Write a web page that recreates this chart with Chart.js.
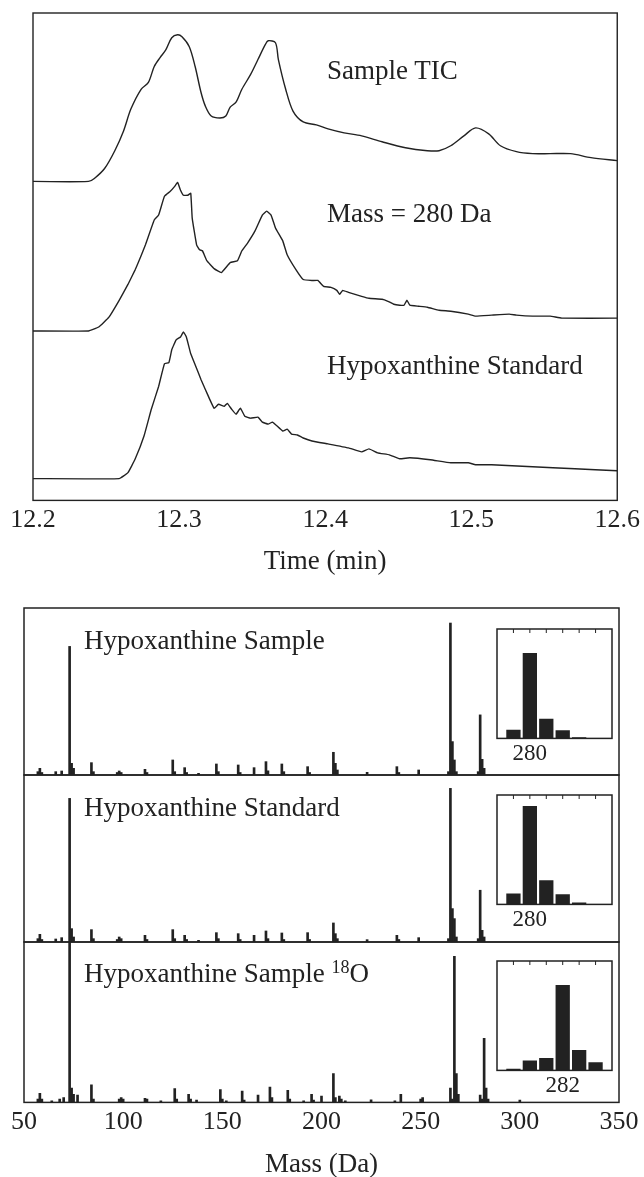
<!DOCTYPE html>
<html>
<head>
<meta charset="utf-8">
<script src="https://cdn.jsdelivr.net/npm/chart.js@4.4.1/dist/chart.umd.min.js"></script>
<style>
  html, body { margin: 0; padding: 0; background: #fff; overflow: hidden; }
  body { width: 644px; height: 1177px; position: relative; font-family: "Liberation Serif", "Times New Roman", serif; color: #222; }
  .box { position: absolute; }
  .lbl { position: absolute; font-size: 27px; line-height: 30px; white-space: nowrap; }
  .lbl sup { font-size: 18px; vertical-align: 9px; line-height: 0; }
</style>
</head>
<body>

<div class="box" style="left:0;top:0"><canvas id="tic" width="644" height="600"></canvas></div>
<div class="box" style="left:0;top:604px"><canvas id="spec1" width="644" height="175"></canvas></div>
<div class="box" style="left:0;top:771px"><canvas id="spec2" width="644" height="175"></canvas></div>
<div class="box" style="left:0;top:938px"><canvas id="spec3" width="644" height="257"></canvas></div>
<div class="box" style="left:485px;top:623px"><canvas id="ins1" width="140" height="149"></canvas></div>
<div class="box" style="left:485px;top:789px"><canvas id="ins2" width="140" height="149"></canvas></div>
<div class="box" style="left:485px;top:955px"><canvas id="ins3" width="140" height="149"></canvas></div>

<div class="lbl" style="left:327px;top:55px">Sample TIC</div>
<div class="lbl" style="left:327px;top:198px">Mass = 280 Da</div>
<div class="lbl" style="left:327px;top:350px">Hypoxanthine Standard</div>
<div class="lbl" style="left:84px;top:625px">Hypoxanthine Sample</div>
<div class="lbl" style="left:84px;top:792px">Hypoxanthine Standard</div>
<div class="lbl" style="left:84px;top:958px">Hypoxanthine Sample <sup>18</sup>O</div>

<script>
// chromatograms (time in min, trace level in a.u., traces are offset as in the figure)
const ticTime = [12.200, 12.238, 12.242, 12.249, 12.256, 12.262, 12.267, 12.274, 12.279, 12.283, 12.287, 12.291, 12.295, 12.299, 12.302, 12.307, 12.311, 12.315, 12.318, 12.322, 12.328, 12.332, 12.335, 12.339, 12.343, 12.349, 12.354, 12.359, 12.361, 12.366, 12.368, 12.373, 12.378, 12.385, 12.394, 12.402, 12.413, 12.425, 12.439, 12.455, 12.470, 12.478, 12.486, 12.495, 12.503, 12.512, 12.520, 12.531, 12.542, 12.554, 12.568, 12.582, 12.600];
const ticLevel = [322, 322, 325, 335, 353, 373, 395, 415, 422, 438, 447, 455, 467, 470, 468, 458, 438, 412, 398, 388, 386, 388, 397, 402, 415, 430, 445, 460, 464, 462, 445, 415, 393, 382, 379, 375, 371, 368, 362, 356, 353, 353, 358, 368, 376, 370, 358, 352, 350, 350, 350, 346, 343];

const m280Time = [12.200, 12.238, 12.245, 12.252, 12.259, 12.265, 12.270, 12.274, 12.277, 12.283, 12.286, 12.290, 12.294, 12.297, 12.299, 12.301, 12.303, 12.306, 12.308, 12.309, 12.312, 12.314, 12.316, 12.319, 12.324, 12.329, 12.335, 12.340, 12.343, 12.347, 12.352, 12.357, 12.360, 12.363, 12.366, 12.371, 12.374, 12.380, 12.385, 12.391, 12.395, 12.399, 12.404, 12.408, 12.410, 12.412, 12.416, 12.425, 12.430, 12.439, 12.443, 12.447, 12.451, 12.454, 12.456, 12.458, 12.464, 12.470, 12.478, 12.486, 12.498, 12.503, 12.514, 12.526, 12.531, 12.542, 12.554, 12.562, 12.600];
const m280Level = [171, 171, 175, 185, 202, 218, 233, 247, 258, 283, 288, 307, 312, 317, 321, 313, 308, 308, 310, 285, 258, 253, 252, 242, 234, 230, 240, 242, 252, 260, 272, 288, 292, 288, 275, 262, 248, 233, 223, 222, 222, 216, 215, 212, 208, 212, 210, 206, 204, 203, 201, 198, 197, 197, 202, 197, 196, 195, 192, 191, 188, 186, 187, 188, 187, 186, 186, 184, 184];

const stdTime = [12.200, 12.259, 12.265, 12.270, 12.276, 12.281, 12.286, 12.290, 12.293, 12.295, 12.298, 12.301, 12.303, 12.305, 12.308, 12.311, 12.315, 12.318, 12.321, 12.324, 12.327, 12.331, 12.333, 12.336, 12.339, 12.342, 12.345, 12.349, 12.354, 12.357, 12.361, 12.364, 12.371, 12.374, 12.377, 12.381, 12.385, 12.391, 12.402, 12.416, 12.425, 12.430, 12.436, 12.444, 12.451, 12.458, 12.472, 12.486, 12.498, 12.503, 12.514, 12.528, 12.542, 12.556, 12.571, 12.585, 12.600];
const stdLevel = [22, 22, 28, 42, 65, 92, 115, 138, 139, 152, 162, 165, 170, 165, 148, 137, 122, 112, 102, 93, 97, 95, 98, 92, 87, 93, 85, 83, 84, 79, 77, 79, 70, 72, 67, 66, 63, 60, 57, 53, 49, 52, 48, 46, 42, 43, 41, 38, 38, 36, 36, 35, 34, 33, 32, 31, 30];

const timeTicks = [12.2, 12.3, 12.4, 12.5, 12.6];

// mass spectra (relative intensity, 1 = panel height)
const sampleMass = [57, 58, 59, 66, 69, 73, 74, 75, 84, 85, 97, 98, 99, 111, 112, 125, 126, 131, 132, 138, 147, 148, 158, 159, 166, 172, 173, 180, 181, 193, 194, 206, 207, 208, 223, 238, 239, 249, 264, 265, 266, 267, 268, 279, 280, 281, 282];
const sampleInt = [0.02, 0.04, 0.015, 0.02, 0.024, 0.77, 0.07, 0.04, 0.074, 0.02, 0.015, 0.024, 0.015, 0.034, 0.015, 0.09, 0.02, 0.044, 0.015, 0.01, 0.066, 0.02, 0.06, 0.015, 0.044, 0.08, 0.025, 0.066, 0.02, 0.05, 0.015, 0.136, 0.07, 0.03, 0.016, 0.05, 0.015, 0.03, 0.02, 0.91, 0.2, 0.09, 0.02, 0.02, 0.36, 0.094, 0.04];

const standardMass = sampleMass;
const standardInt = [0.02, 0.046, 0.015, 0.018, 0.026, 0.86, 0.08, 0.03, 0.074, 0.02, 0.015, 0.03, 0.02, 0.04, 0.015, 0.074, 0.02, 0.04, 0.015, 0.01, 0.056, 0.02, 0.05, 0.015, 0.04, 0.066, 0.02, 0.054, 0.015, 0.056, 0.015, 0.114, 0.05, 0.02, 0.014, 0.04, 0.015, 0.026, 0.02, 0.92, 0.2, 0.14, 0.03, 0.02, 0.31, 0.07, 0.03];

const o18Mass = [57, 58, 59, 64, 68, 70, 73, 74, 75, 77, 84, 85, 98, 99, 100, 111, 112, 119, 126, 127, 133, 134, 137, 149, 150, 152, 160, 161, 168, 174, 175, 183, 184, 191, 195, 196, 200, 206, 207, 209, 210, 212, 225, 237, 240, 250, 251, 265, 266, 267, 268, 269, 280, 281, 282, 283, 284, 300];
const o18Int = [0.02, 0.056, 0.02, 0.01, 0.02, 0.03, 1.0, 0.09, 0.05, 0.046, 0.11, 0.02, 0.02, 0.03, 0.02, 0.026, 0.02, 0.01, 0.086, 0.02, 0.05, 0.02, 0.015, 0.08, 0.02, 0.01, 0.07, 0.015, 0.046, 0.096, 0.03, 0.076, 0.02, 0.01, 0.05, 0.015, 0.04, 0.18, 0.03, 0.04, 0.02, 0.01, 0.016, 0.01, 0.05, 0.02, 0.03, 0.09, 0.02, 0.91, 0.18, 0.05, 0.046, 0.02, 0.40, 0.09, 0.02, 0.015];

const massTicks = [50, 100, 150, 200, 250, 300, 350];

// molecular ion insets
const insetMass = [279, 280, 281, 282, 283, 284];
const insetSample = [0.078, 0.78, 0.18, 0.075, 0.01, 0];
const insetStandard = [0.1, 0.9, 0.22, 0.093, 0.018, 0];
const insetO18 = [0.015, 0.09, 0.114, 0.78, 0.186, 0.075];

const INK = '#222';
const SERIF = '"Liberation Serif", "Times New Roman", serif';

// draws the box round the plot area, plus optional inward ticks on the top edge
const framePlugin = {
  id: 'frame',
  afterDatasetsDraw(chart, args, opts) {
    const { ctx, chartArea: a } = chart;
    ctx.save();
    ctx.strokeStyle = INK;
    ctx.lineWidth = opts.width || 1.5;
    ctx.strokeRect(a.left, a.top, a.right - a.left, a.bottom - a.top);
    if (opts.topTicks) {
      const x = chart.scales.x;
      ctx.lineWidth = 1;
      opts.topTicks.forEach(v => {
        const px = x.getPixelForValue(v);
        ctx.beginPath();
        ctx.moveTo(px, a.top);
        ctx.lineTo(px, a.top + 4);
        ctx.stroke();
      });
    }
    ctx.restore();
  }
};

const pts = (xs, ys) => xs.map((x, i) => ({ x: x, y: ys[i] }));

const trace = (xs, ys, smooth) => ({
  data: pts(xs, ys),
  borderColor: INK,
  borderWidth: 1.4,
  pointRadius: 0,
  tension: smooth,
  fill: false
});

new Chart(document.getElementById('tic'), {
  type: 'line',
  data: { datasets: [trace(ticTime, ticLevel, 0.3), trace(m280Time, m280Level, 0.1), trace(stdTime, stdLevel, 0.1)] },
  plugins: [framePlugin],
  options: {
    responsive: false,
    animation: false,
    events: [],
    layout: { padding: { left: 33, right: 25, top: 13, bottom: 22 } },
    plugins: { legend: { display: false }, tooltip: { enabled: false }, frame: { width: 1.4 } },
    scales: {
      x: {
        type: 'linear', min: 12.2, max: 12.6,
        afterBuildTicks: s => { s.ticks = timeTicks.map(v => ({ value: v })); },
        ticks: { font: { family: SERIF, size: 26 }, color: INK, padding: 4, maxRotation: 0, autoSkip: false,
                 callback: v => v.toFixed(1) },
        grid: { display: false, drawTicks: false },
        border: { display: false },
        title: { display: true, text: 'Time (min)', font: { family: SERIF, size: 27 }, color: INK, padding: { top: 6, bottom: 0 } }
      },
      y: { display: false, min: 0, max: 492 }
    }
  }
});

function spectrum(id, mass, inten, withAxis) {
  return new Chart(document.getElementById(id), {
    type: 'bar',
    data: { datasets: [{ data: pts(mass, inten), backgroundColor: INK, barThickness: 2 }] },
    plugins: [framePlugin],
    options: {
      responsive: false,
      animation: false,
      events: [],
      layout: { padding: { left: 24, right: 25, top: 4, bottom: withAxis ? 14 : 4 } },
      plugins: { legend: { display: false }, tooltip: { enabled: false }, frame: { width: 1.5 } },
      scales: {
        x: {
          type: 'linear', min: 50, max: 350, offset: false, display: withAxis,
          afterBuildTicks: s => { s.ticks = massTicks.map(v => ({ value: v })); },
          ticks: { font: { family: SERIF, size: 26 }, color: INK, padding: 4, maxRotation: 0, autoSkip: false },
          grid: { display: false, drawTicks: false, offset: false },
          border: { display: false },
          title: { display: true, text: 'Mass (Da)', font: { family: SERIF, size: 27 }, color: INK, padding: { top: 7, bottom: 0 } }
        },
        y: { display: false, min: 0, max: 1 }
      }
    }
  });
}

function inset(id, values, label) {
  return new Chart(document.getElementById(id), {
    type: 'bar',
    data: { datasets: [{ data: pts(insetMass, values), backgroundColor: INK, categoryPercentage: 1, barPercentage: 0.87 }] },
    plugins: [framePlugin],
    options: {
      responsive: false,
      animation: false,
      events: [],
      layout: { padding: { left: 12, right: 13, top: 6, bottom: 2 } },
      plugins: { legend: { display: false }, tooltip: { enabled: false }, frame: { width: 1.5, topTicks: insetMass } },
      scales: {
        x: {
          type: 'linear', min: 278, max: 285, offset: false,
          afterBuildTicks: s => { s.ticks = [{ value: label }]; },
          ticks: { font: { family: SERIF, size: 23 }, color: INK, padding: 2, maxRotation: 0, autoSkip: false },
          grid: { display: false, drawTicks: false, offset: false },
          border: { display: false }
        },
        y: { display: false, min: 0, max: 1 }
      }
    }
  });
}

spectrum('spec1', sampleMass, sampleInt, false);
spectrum('spec2', standardMass, standardInt, false);
spectrum('spec3', o18Mass, o18Int, true);
inset('ins1', insetSample, 280);
inset('ins2', insetStandard, 280);
inset('ins3', insetO18, 282);
</script>
</body>
</html>
